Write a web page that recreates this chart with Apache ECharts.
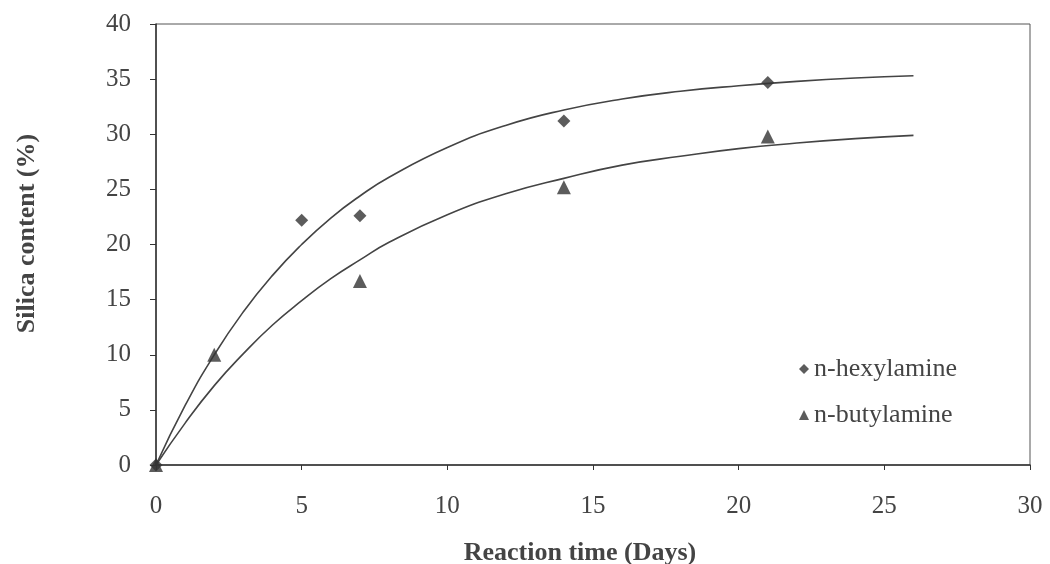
<!DOCTYPE html>
<html>
<head>
<meta charset="utf-8">
<script src="https://cdn.jsdelivr.net/npm/echarts@6/dist/echarts.min.js"></script>
<style>html,body{margin:0;padding:0;background:#fff;}#c{width:1050px;height:564px;}</style>
</head>
<body>
<div id="c"></div>
<script>
// Measured data points
const hexDays = [0, 5, 7, 14, 21];
const hexSilica = [0, 22.2, 22.6, 31.2, 34.7];
const butDays = [0, 2, 7, 14, 21];
const butSilica = [0, 10.0, 16.7, 25.2, 29.8];
// Trend lines
const curveDays = [0, 1, 2, 3, 4, 5, 6, 7, 8, 10, 12, 14, 16, 18, 20, 22, 24, 26];
const hexCurve = [0, 5.4, 10.0, 13.9, 17.2, 20.0, 22.4, 24.4, 26.1, 28.8, 30.8, 32.2, 33.2, 33.9, 34.4, 34.8, 35.1, 35.3];
const butCurve = [0, 3.8, 7.2, 10.1, 12.7, 14.9, 16.9, 18.6, 20.2, 22.7, 24.6, 26.0, 27.2, 28.0, 28.7, 29.2, 29.6, 29.9];
const xTicks = [0, 5, 10, 15, 20, 25, 30];
const yTicks = [0, 5, 10, 15, 20, 25, 30, 35, 40];
const seriesNames = ['n-hexylamine', 'n-butylamine'];

const zip = (a, b) => a.map((v, i) => [v, b[i]]);
const font = 'Liberation Serif';
const ink = '#333';

const chart = echarts.init(document.getElementById('c'));
chart.setOption({
  backgroundColor: '#fff',
  animation: false,
  grid: { left: 156, right: 20, top: 24, bottom: 99, containLabel: false, outerBoundsMode: 'none',
          show: true, borderColor: '#555', borderWidth: 1 },
  xAxis: {
    type: 'value', min: xTicks[0], max: xTicks[xTicks.length - 1], interval: 5,
    name: 'Reaction time (Days)', nameLocation: 'middle', nameGap: 75,
    nameTextStyle: { fontFamily: font, fontSize: 26, fontWeight: 'bold', color: '#444', padding: [0, 26, 0, 0] },
    axisLine: { onZero: false, lineStyle: { color: '#333', width: 1.5 } },
    axisTick: { show: true, inside: false, length: 5, lineStyle: { color: '#333' } },
    axisLabel: { fontFamily: font, fontSize: 25, color: '#444', margin: 29 },
    splitLine: { show: false }
  },
  yAxis: {
    type: 'value', min: yTicks[0], max: yTicks[yTicks.length - 1], interval: 5,
    name: 'Silica content (%)', nameLocation: 'middle', nameGap: 116,
    nameTextStyle: { fontFamily: font, fontSize: 26, fontWeight: 'bold', color: '#444', padding: [0, 0, 0, 22] },
    axisLine: { onZero: false, lineStyle: { color: '#333', width: 1.5 } },
    axisTick: { show: true, inside: false, length: 6, lineStyle: { color: '#333' } },
    axisLabel: { fontFamily: font, fontSize: 25, color: '#444', margin: 25 },
    splitLine: { show: false }
  },
  legend: {
    data: seriesNames.map((n, i) => ({ name: n, icon: i === 0 ? 'diamond' : 'triangle' })),
    orient: 'vertical', left: 794, top: 351, itemGap: 20,
    itemWidth: 10, itemHeight: 10,
    textStyle: { fontFamily: font, fontSize: 26, color: '#444', padding: [0, 0, 0, 0] }
  },
  series: [
    { type: 'line', data: zip(curveDays, hexCurve), smooth: true, showSymbol: false, silent: true,
      lineStyle: { color: '#444', width: 1.6 }, z: 2 },
    { type: 'line', data: zip(curveDays, butCurve), smooth: true, showSymbol: false, silent: true,
      lineStyle: { color: '#444', width: 1.6 }, z: 2 },
    { name: seriesNames[0], type: 'scatter', data: zip(hexDays, hexSilica), symbol: 'diamond',
      symbolSize: 13, itemStyle: { color: ink }, z: 3 },
    { name: seriesNames[1], type: 'scatter', data: zip(butDays, butSilica), symbol: 'triangle',
      symbolSize: 14, itemStyle: { color: ink }, z: 3 }
  ]
});
</script>
</body>
</html>
